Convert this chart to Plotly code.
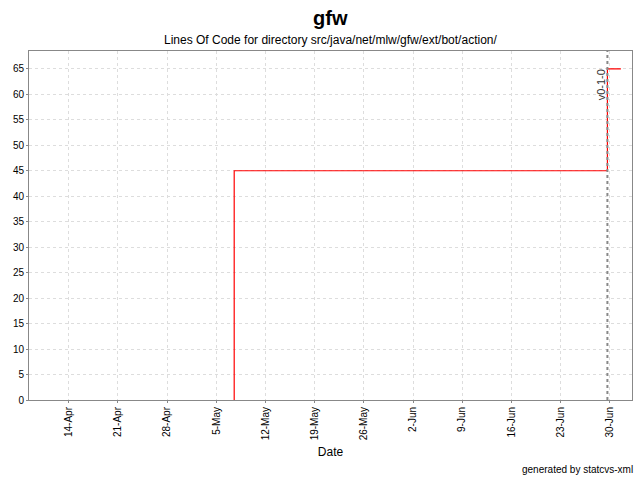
import plotly.graph_objects as go

# data
step_dates = ["2005-05-07 13:00", "2005-05-07 13:00", "2005-06-29 16:00", "2005-07-01 14:00"]
step_loc = [0, 45, 65, 65]
version_label = "v0-1-0"
version_date = "2005-06-29 16:00"
tick_dates = ["2005-04-14", "2005-04-21", "2005-04-28", "2005-05-05", "2005-05-12", "2005-05-19",
              "2005-05-26", "2005-06-02", "2005-06-09", "2005-06-16", "2005-06-23", "2005-06-30"]
tick_labels = ["14-Apr", "21-Apr", "28-Apr", "5-May", "12-May", "19-May",
               "26-May", "2-Jun", "9-Jun", "16-Jun", "23-Jun", "30-Jun"]
y_ticks = list(range(0, 70, 5))

FONT = "Liberation Sans, Arial"

fig = go.Figure()
fig.add_trace(go.Scatter(x=step_dates, y=step_loc, mode="lines", line_shape="hv",
                         line=dict(color="#ff0000", width=1.2), showlegend=False))

fig.add_shape(type="line", x0=version_date, x1=version_date, y0=0, y1=1, yref="paper",
              line=dict(color="#888888", width=2, dash="3px,3px"))
fig.add_annotation(x=version_date, y=0.953, yref="paper", text=version_label, textangle=-90,
                   showarrow=False, xanchor="right", yanchor="top", xshift=1,
                   font=dict(family=FONT, size=11, color="#333333"))

fig.add_annotation(x=0.5, y=1, xref="paper", yref="paper", yanchor="bottom",
                   text="<b>gfw</b>", showarrow=False, yshift=20,
                   font=dict(family=FONT, size=20, color="#000000"))
fig.add_annotation(x=0.5, y=1, xref="paper", yref="paper", yanchor="bottom",
                   text="Lines Of Code for directory src/java/net/mlw/gfw/ext/bot/action/", showarrow=False,
                   yshift=2, font=dict(family=FONT, size=12, color="#000000"))

fig.add_annotation(x=1, y=0, xref="paper", yref="paper", text="generated by statcvs-xml",
                   showarrow=False, xanchor="right", yanchor="bottom",
                   font=dict(family=FONT, size=10, color="#000000"),
                   yshift=-77, xshift=3)

fig.update_layout(
    width=640, height=480,
    margin=dict(l=29, r=8, t=51, b=80, autoexpand=False),
    paper_bgcolor="white", plot_bgcolor="white",
    font=dict(family=FONT, size=11, color="#000000"),
    xaxis=dict(type="date", range=["2005-04-08 08:00", "2005-07-03 04:00"],
               tickvals=tick_dates, ticktext=tick_labels, tickangle=-90,
               showgrid=True, gridcolor="#dddddd", griddash="3px,3px", gridwidth=1,
               showline=True, linecolor="#888888", linewidth=1, mirror=True,
               ticks="outside", ticklen=2, tickcolor="#888888", automargin=False,
               title=dict(text="Date", font=dict(size=12), standoff=8),
               zeroline=False, tickfont=dict(size=10)),
    yaxis=dict(range=[0, 68.5], tickvals=y_ticks,
               showgrid=True, gridcolor="#dddddd", griddash="3px,3px", gridwidth=1,
               showline=True, linecolor="#888888", linewidth=1, mirror=True,
               ticks="outside", ticklen=2, tickcolor="#888888", automargin=False,
               zeroline=False, tickfont=dict(size=10)),
)

fig.write_html("out.html", config={"displayModeBar": False},
               post_script="document.body.style.margin='0';document.body.style.overflow='hidden';")
